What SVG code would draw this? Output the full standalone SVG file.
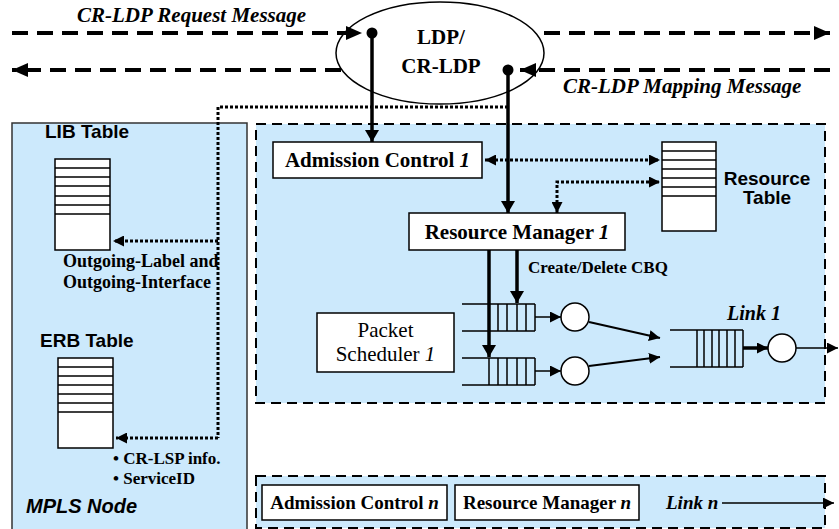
<svg xmlns="http://www.w3.org/2000/svg" width="839" height="529" viewBox="0 0 839 529">
<style>
.sb{font-family:"Liberation Serif","Times New Roman",serif;font-weight:bold;}
.sr{font-family:"Liberation Serif","Times New Roman",serif;}
.ab{font-family:"Liberation Sans",Arial,sans-serif;font-weight:bold;}
.box{fill:#fff;stroke:#000;stroke-width:1.5;}
.panel{fill:#cce9fc;stroke:#000;stroke-width:2;stroke-dasharray:10 6;}
.tbl{fill:#fff;stroke:#000;stroke-width:1.5;}
.dash{fill:none;stroke:#000;stroke-width:4;stroke-dasharray:16 9;}
.dot{fill:none;stroke:#000;stroke-width:3;stroke-dasharray:3 2;}
.thick{fill:none;stroke:#000;stroke-width:3.5;}
.med{fill:none;stroke:#000;stroke-width:2;}
.thin{fill:none;stroke:#000;stroke-width:1.5;}
.circ{fill:#fff;stroke:#000;stroke-width:1.5;}
</style>
<defs>
<marker id="big" markerUnits="userSpaceOnUse" markerWidth="16" markerHeight="16" refX="16" refY="8" orient="auto"><path d="M0,1 L16,8 L0,15 z" fill="#000"/></marker>
<marker id="mid" markerUnits="userSpaceOnUse" markerWidth="12" markerHeight="14" refX="12" refY="7" orient="auto"><path d="M0,0 L12,7 L0,14 z" fill="#000"/></marker>
<marker id="sm" markerUnits="userSpaceOnUse" markerWidth="11" markerHeight="11" refX="11" refY="5.5" orient="auto-start-reverse"><path d="M0,0 L11,5.5 L0,11 z" fill="#000"/></marker>
</defs>

<g id="mpls-node">
<rect x="12" y="123" width="235" height="412" fill="#cce9fc" stroke="#333" stroke-width="1.5"/>
<text class="ab" x="26" y="513" font-size="20" font-style="italic">MPLS Node</text>
</g>

<g id="lib-table">
<text class="ab" x="45" y="138" font-size="19">LIB Table</text>
<rect class="tbl" x="55" y="159" width="55" height="91"/>
<path class="thin" d="M55,168H110M55,177H110M55,186H110M55,196H110M55,205H110M55,214H110"/>
<text class="sb" x="63" y="267" font-size="18">Outgoing-Label and</text>
<text class="sb" x="63" y="288" font-size="18">Outgoing-Interface</text>
</g>

<g id="erb-table">
<text class="ab" x="40" y="347" font-size="19">ERB Table</text>
<rect class="tbl" x="58" y="358" width="55" height="90"/>
<path class="thin" d="M58,367H113M58,376H113M58,385H113M58,394H113M58,403H113M58,412H113"/>
<text class="sb" x="113" y="464" font-size="17">• CR-LSP info.</text>
<text class="sb" x="113" y="484" font-size="17">• ServiceID</text>
</g>

<g id="panel-1">
<rect class="panel" x="256" y="124" width="569" height="279"/>
</g>

<g id="panel-n">
<rect class="panel" x="256" y="476" width="569" height="52"/>
</g>

<g id="ldp">
<ellipse cx="440" cy="53" rx="104" ry="51" fill="#fff" stroke="#000" stroke-width="1.5"/>
<text class="sb" x="441" y="44" font-size="21" text-anchor="middle">LDP/</text>
<text class="sb" x="441" y="73" font-size="21" text-anchor="middle">CR-LDP</text>
</g>

<g id="labels">
<text class="sb" x="77" y="22" font-size="21" font-style="italic">CR-LDP Request Message</text>
<text class="sb" x="563" y="93" font-size="21" font-style="italic">CR-LDP Mapping Message</text>
<text class="sb" x="528" y="273" font-size="17">Create/Delete CBQ</text>
<text class="sb" x="727" y="320" font-size="20" font-style="italic">Link 1</text>
</g>

<g id="admission-control-1">
<rect class="box" x="273" y="142" width="209" height="36"/>
<text class="sb" x="377.5" y="167" font-size="21" text-anchor="middle">Admission Control <tspan font-style="italic">1</tspan></text>
</g>

<g id="resource-manager-1">
<rect class="box" x="409" y="213" width="216" height="37"/>
<text class="sb" x="517" y="239" font-size="21" text-anchor="middle">Resource Manager <tspan font-style="italic">1</tspan></text>
</g>

<g id="resource-table">
<rect class="tbl" x="662" y="142" width="54" height="89"/>
<path class="thin" d="M662,151H716M662,160H716M662,169H716M662,178H716M662,187H716M662,196H716"/>
<text class="ab" x="767" y="185" font-size="19" text-anchor="middle">Resource</text>
<text class="ab" x="767" y="204" font-size="19" text-anchor="middle">Table</text>
</g>

<g id="packet-scheduler-1">
<rect class="box" x="317" y="313" width="137" height="59"/>
<text class="sr" x="385.5" y="337" font-size="21" text-anchor="middle">Packet</text>
<text class="sr" x="385.5" y="361" font-size="21" text-anchor="middle">Scheduler <tspan font-style="italic">1</tspan></text>
</g>

<g id="queue-1">
<path class="thin" d="M462,304H535M462,331H535M489,304V331M498,304V331M507,304V331M517,304V331M526,304V331M535,304V331"/>
<circle class="circ" cx="575" cy="317" r="14"/>
</g>

<g id="queue-2">
<path class="thin" d="M462,358H535M462,385H535M489,358V385M498,358V385M507,358V385M517,358V385M526,358V385M535,358V385"/>
<circle class="circ" cx="575" cy="371" r="14"/>
</g>

<g id="link-1">
<path class="thin" d="M670,330H743M670,367H743M697,330V367M704,330V367M712,330V367M719,330V367M727,330V367M735,330V367M743,330V367"/>
<circle class="circ" cx="782" cy="348" r="14"/>
</g>

<g id="admission-control-n">
<rect class="box" x="262" y="485" width="185" height="35"/>
<text class="sb" x="354.5" y="509" font-size="19" text-anchor="middle">Admission Control <tspan font-style="italic">n</tspan></text>
</g>

<g id="resource-manager-n">
<rect class="box" x="455" y="485" width="184" height="35"/>
<text class="sb" x="547" y="509" font-size="19" text-anchor="middle">Resource Manager <tspan font-style="italic">n</tspan></text>
</g>

<g id="link-n">
<text class="sb" x="666" y="509" font-size="19" font-style="italic">Link n</text>
</g>

<g id="connectors">
<line class="dash" x1="12" y1="33" x2="362" y2="33" marker-end="url(#big)"/>
<line class="dash" x1="544" y1="33" x2="830" y2="33" marker-end="url(#big)"/>
<line class="dash" x1="341" y1="70" x2="12" y2="70" marker-end="url(#big)"/>
<line class="dash" x1="830" y1="70" x2="520" y2="70" marker-end="url(#big)"/>
<circle cx="372" cy="33" r="5.5" fill="#000"/>
<circle cx="508" cy="70" r="5.5" fill="#000"/>
<line class="thick" x1="372" y1="33" x2="372" y2="142" marker-end="url(#mid)"/>
<line class="thick" x1="508" y1="70" x2="508" y2="213" marker-end="url(#mid)"/>
<polyline class="dot" points="508,107 218,107 218,438"/>
<line class="dot" x1="218" y1="241" x2="113" y2="241" marker-end="url(#sm)"/>
<line class="dot" x1="218" y1="438" x2="116" y2="438" marker-end="url(#sm)"/>
<line class="dot" x1="485" y1="160" x2="660" y2="160" marker-start="url(#sm)" marker-end="url(#sm)"/>
<polyline class="dot" points="557,213 557,182 660,182" marker-start="url(#sm)" marker-end="url(#sm)"/>
<line class="thick" x1="517" y1="250" x2="517" y2="303" marker-end="url(#mid)"/>
<line class="thick" x1="489" y1="250" x2="489" y2="357" marker-end="url(#mid)"/>
<line class="thin" x1="535" y1="317" x2="561" y2="317" marker-end="url(#sm)"/>
<line class="thin" x1="535" y1="371" x2="561" y2="371" marker-end="url(#sm)"/>
<line class="med" x1="589" y1="322" x2="660" y2="338" marker-end="url(#sm)"/>
<line class="med" x1="589" y1="366" x2="660" y2="357" marker-end="url(#sm)"/>
<line class="thick" x1="743" y1="348" x2="768" y2="348" marker-end="url(#sm)"/>
<line class="thin" x1="796" y1="348" x2="838" y2="348" marker-end="url(#sm)"/>
<line class="thin" x1="722" y1="503" x2="834" y2="503" marker-end="url(#sm)"/>
</g>
</svg>
